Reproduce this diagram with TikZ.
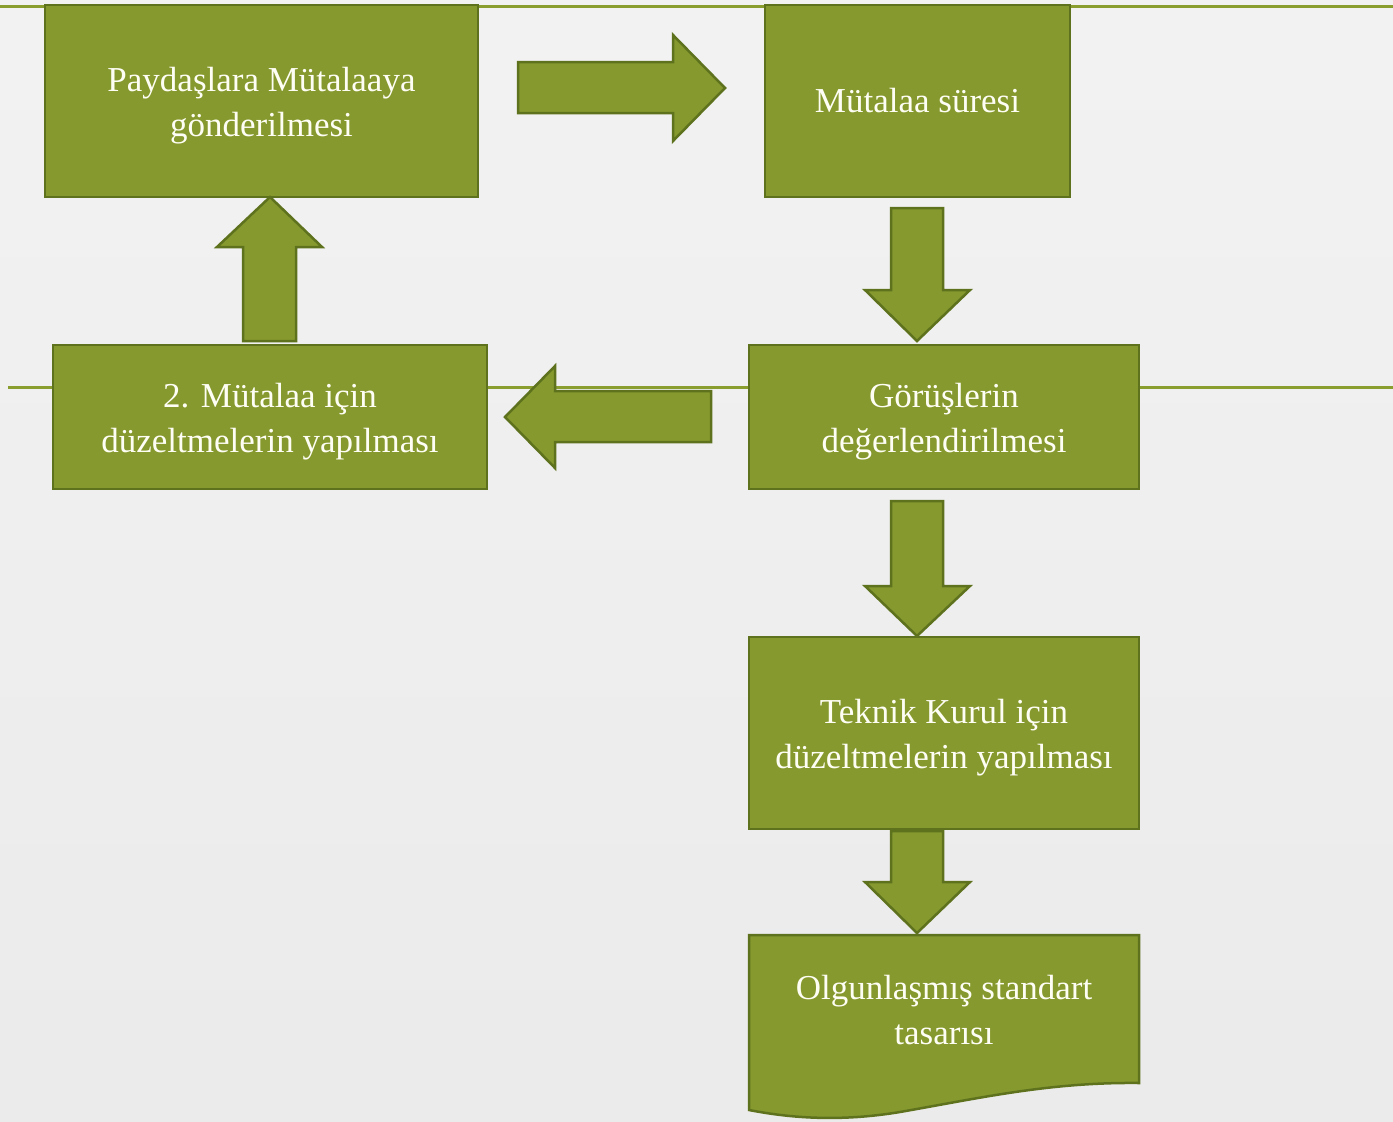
\documentclass[tikz,border=0pt]{standalone}
\usepackage{fontspec}
\setmainfont{Liberation Serif}
\definecolor{boxfill}{HTML}{86992E}
\definecolor{boxline}{HTML}{5E721E}
\definecolor{rulegreen}{HTML}{8A9E30}
\begin{document}
\begin{tikzpicture}[x=1pt,y=-1pt,
  box/.style={fill=boxfill,draw=boxline,line width=2.5pt,inner sep=0pt},
  txt/.style={text=white!96!yellow,align=center,font=\fontsize{35}{45}\selectfont,inner sep=0pt},
  blk/.style={fill=boxfill,draw=boxline,line width=2.5pt,line join=miter}]
\useasboundingbox (0,0) rectangle (1393,1122);
\shade[top color=white!95!black,bottom color=white!92!black] (0,0) rectangle (1393,1122);
% rules
\draw[rulegreen,line width=3pt] (0,6) -- (1393,6);
\draw[rulegreen,line width=3pt] (8,387) -- (1393,387);
% boxes
\node[box,minimum width=433pt,minimum height=192pt] (p) at (261.5,101) {};
\node[txt,yshift=-5pt] (pt) at (p.center) {Paydaşlara Mütalaaya\\gönderilmesi};
\node[box,minimum width=305pt,minimum height=192pt] (ms) at (917.5,101) {};
\node[txt] (mst) at (ms.center) {Mütalaa süresi};
\node[box,minimum width=390pt,minimum height=144pt] (g) at (944,417) {};
\node[txt,yshift=-5pt] (gt) at (g.center) {Görüşlerin\\değerlendirilmesi};
\node[box,minimum width=434pt,minimum height=144pt] (d2) at (270,417) {};
\node[txt,yshift=-5pt] (d2t) at (d2.center) {2. Mütalaa için\\düzeltmelerin yapılması};
\node[box,minimum width=390pt,minimum height=192pt] (tk) at (944,733) {};
\node[txt,yshift=-5pt] (tkt) at (tk.center) {Teknik Kurul için\\düzeltmelerin yapılması};
% document shape
\draw[blk] (749,935) -- (1139,935) -- (1139,1083)
  .. controls (1050,1082) and (980,1098) .. (900,1112)
  .. controls (840,1122) and (790,1118) .. (749,1110) -- cycle;
\node[txt] (ol) at (944,1010) {Olgunlaşmış standart\\tasarısı};
% block arrows
\draw[blk] (518,62) -- (673,62) -- (673,35) -- (725,88) -- (673,141) -- (673,113) -- (518,113) -- cycle;
\draw[blk] (243,341) -- (243,247) -- (217,247) -- (270,197) -- (322,247) -- (296,247) -- (296,341) -- cycle;
\draw[blk] (711,391) -- (555,391) -- (555,366) -- (505,417) -- (555,468) -- (555,442) -- (711,442) -- cycle;
\draw[blk] (891,208) -- (943,208) -- (943,290) -- (970,290) -- (917,341) -- (865,290) -- (891,290) -- cycle;
\draw[blk] (891,501) -- (943,501) -- (943,586) -- (970,586) -- (917,636) -- (865,586) -- (891,586) -- cycle;
\draw[blk] (891,831) -- (943,831) -- (943,882) -- (970,882) -- (917,933) -- (865,882) -- (891,882) -- cycle;
\end{tikzpicture}
\end{document}
